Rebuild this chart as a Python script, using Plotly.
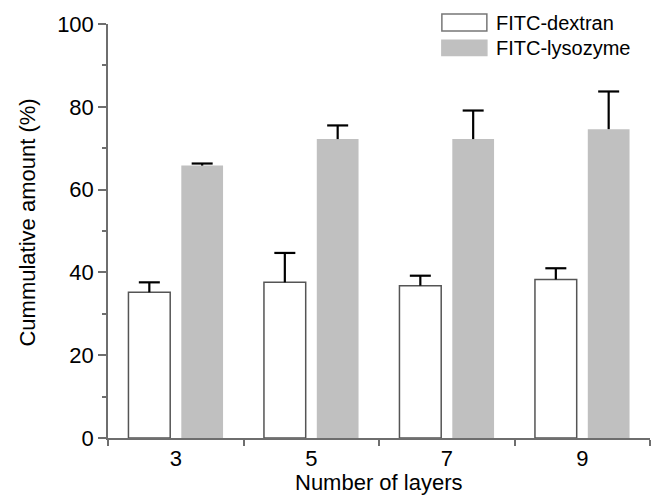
import plotly.graph_objects as go

layers = ["3", "5", "7", "9"]
series_names = ["FITC-dextran", "FITC-lysozyme"]
dextran = [35.2, 37.6, 36.8, 38.3]
dextran_err = [2.4, 7.1, 2.4, 2.7]
lysozyme = [65.8, 72.2, 72.2, 74.6]
lysozyme_err = [0.5, 3.3, 6.9, 9.1]

FONT = "Liberation Sans, Arial, sans-serif"
AXIS_COL = "#6e6e6e"
GRAY = "#c0c0c0"
BARGAP = 0.22
BARGROUPGAP = 0.21

fig = go.Figure()
fig.add_trace(go.Bar(
    x=layers, y=dextran, name=series_names[0],
    marker=dict(color="white", line=dict(color="#555555", width=1.5)),
    error_y=dict(type="data", array=dextran_err, symmetric=False,
                 arrayminus=[0] * len(dextran), color="black", thickness=2.2, width=0),
    showlegend=False,
))
fig.add_trace(go.Bar(
    x=layers, y=lysozyme, name=series_names[1],
    marker=dict(color=GRAY, line=dict(color=GRAY, width=0)),
    error_y=dict(type="data", array=lysozyme_err, symmetric=False,
                 arrayminus=[0] * len(lysozyme), color="black", thickness=2.2, width=0),
    showlegend=False,
))

# error-bar caps (only on top), placed on a hidden numeric axis aligned with the category axis
slot = (1 - BARGAP) / 2
for k, (vals, errs) in enumerate([(dextran, dextran_err), (lysozyme, lysozyme_err)]):
    off = (k - 0.5) * slot
    fig.add_trace(go.Scatter(
        x=[i + off for i in range(len(layers))],
        y=[v + e for v, e in zip(vals, errs)],
        xaxis="x2", yaxis="y", mode="markers",
        marker=dict(symbol="line-ew", size=15, color="black",
                    line=dict(color="black", width=2.2)),
        showlegend=False, hoverinfo="skip",
    ))

fig.update_layout(
    width=651, height=487,
    margin=dict(l=100, r=9, t=16, b=57, autoexpand=False),
    paper_bgcolor="white", plot_bgcolor="white",
    barmode="group", bargap=BARGAP, bargroupgap=BARGROUPGAP,
    font=dict(family=FONT, size=22, color="#000000"),
    xaxis=dict(
        type="category", range=[-0.5, 3.5],
        showline=True, linecolor=AXIS_COL, linewidth=1.5,
        ticks="outside", tickson="boundaries", ticklen=6, tickcolor=AXIS_COL, tickwidth=1.5,
        showgrid=False, zeroline=False,
        tickfont=dict(size=22),
    ),
    xaxis2=dict(overlaying="x", range=[-0.5, 3.5], visible=False, anchor="y"),
    yaxis=dict(
        range=[0, 100], tickvals=[0, 20, 40, 60, 80, 100],
        showline=True, linecolor=AXIS_COL, linewidth=1.5,
        ticks="outside", ticklen=8, tickcolor=AXIS_COL, tickwidth=1.5,
        minor=dict(tickvals=[10, 30, 50, 70, 90], ticks="outside", ticklen=4,
                   tickcolor=AXIS_COL, tickwidth=1.5, showgrid=False),
        showgrid=False, zeroline=False,
        tickfont=dict(size=22),
    ),
)

# axis titles
fig.add_annotation(xref="paper", yref="paper", x=0.5, y=-0.107,
                   text="Number of layers", showarrow=False,
                   xanchor="center", yanchor="middle", font=dict(size=22))
fig.add_annotation(xref="paper", yref="paper", x=-0.149, y=0.521,
                   text="Cummulative amount (%)", showarrow=False, textangle=-90,
                   xanchor="center", yanchor="middle", font=dict(size=22))

# custom legend (boxes sized like the original figure's legend)
legend_items = [
    (series_names[0], "white", "#777777", 1.024, 0.983, 1.003),
    (series_names[1], GRAY, GRAY, 0.961, 0.924, 0.942),
]
for name, fill, border, y0, y1, ym in legend_items:
    fig.add_shape(type="rect", xref="paper", yref="paper",
                  x0=0.616, x1=0.699, y0=y1, y1=y0,
                  fillcolor=fill, line=dict(color=border, width=1.5))
    fig.add_annotation(xref="paper", yref="paper", x=0.713, y=ym,
                       text=name, showarrow=False, xanchor="left", yanchor="middle",
                       font=dict(family=FONT, size=20, color="#000000"))

fig.write_html("out.html")
